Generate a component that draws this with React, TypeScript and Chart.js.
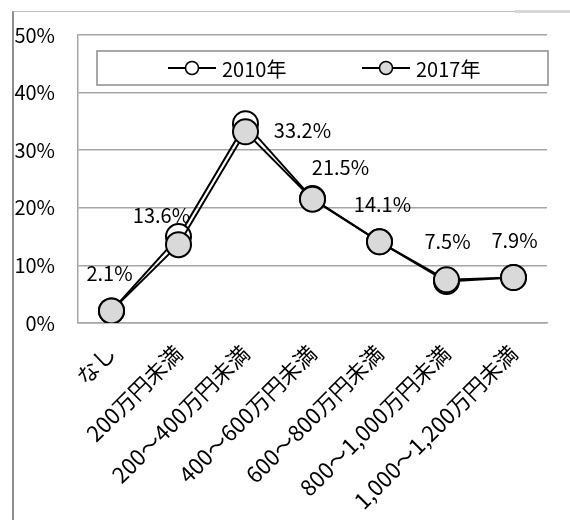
import React, { useEffect, useRef } from 'react';
import { Chart, registerables } from 'chart.js';

Chart.register(...registerables);

// ---- data ----
const categories = [
  'なし',
  '200万円未満',
  '200～400万円未満',
  '400～600万円未満',
  '600～800万円未満',
  '800～1,000万円未満',
  '1,000～1,200万円未満',
];
const seriesNames = ['2010年', '2017年'];
const values2010 = [2.1, 15.0, 34.6, 21.6, 14.1, 7.2, 7.9];
const values2017 = [2.1, 13.6, 33.2, 21.5, 14.1, 7.5, 7.9];
const yMin = 0;
const yMax = 50;
const yStep = 10;

// ---- style ----
const FONT = "'Noto Sans CJK JP', sans-serif";
const FONT_SIZE = 20;
const X_FONT_SIZE = 22;
const GRID = '#a6a6a6';
const FILL2017 = '#d9d9d9';
// label offsets (dx, dy) from each 2017 point, in px
const labelOffsets: [number, number][] = [
  [-2, -37],
  [-17, -29],
  [57, -1],
  [28, -32],
  [3, -37],
  [1, -38],
  [1, -37],
];

const dataLabelPlugin = {
  id: 'dataLabels',
  afterDatasetsDraw(chart: any) {
    const ctx = chart.ctx;
    const meta = chart.getDatasetMeta(1);
    ctx.save();
    ctx.font = `${FONT_SIZE}px ${FONT}`;
    ctx.fillStyle = '#000';
    ctx.textAlign = 'center';
    ctx.textBaseline = 'middle';
    meta.data.forEach((pt: any, i: number) => {
      const [dx, dy] = labelOffsets[i];
      ctx.fillText(values2017[i].toFixed(1) + '%', pt.x + dx, pt.y + dy);
    });
    ctx.restore();
  },
};

const boxLegendPlugin = {
  id: 'boxLegend',
  afterDraw(chart: any) {
    const ctx = chart.ctx;
    const ca = chart.chartArea;
    const x0 = ca.left + 19;
    const x1 = ca.right + 1;
    const y0 = ca.top + 16;
    const y1 = ca.top + 50;
    const cy = (y0 + y1) / 2;
    ctx.save();
    ctx.fillStyle = '#fff';
    ctx.fillRect(x0, y0, x1 - x0, y1 - y0);
    ctx.strokeStyle = '#8c8c8c';
    ctx.lineWidth = 1.5;
    ctx.strokeRect(x0, y0, x1 - x0, y1 - y0);
    const starts = [x0 + 71, x0 + 265];
    const fills = ['#ffffff', FILL2017];
    ctx.font = `${FONT_SIZE}px ${FONT}`;
    ctx.textBaseline = 'middle';
    ctx.textAlign = 'left';
    seriesNames.forEach((name, i) => {
      const sx = starts[i];
      ctx.strokeStyle = '#000';
      ctx.lineWidth = 2;
      ctx.beginPath();
      ctx.moveTo(sx, cy);
      ctx.lineTo(sx + 48, cy);
      ctx.stroke();
      ctx.beginPath();
      ctx.arc(sx + 24, cy, 6.5, 0, Math.PI * 2);
      ctx.fillStyle = fills[i];
      ctx.fill();
      ctx.lineWidth = 1.5;
      ctx.stroke();
      ctx.fillStyle = '#000';
      ctx.fillText(name, sx + 54, cy + 1);
    });
    ctx.restore();
  },
};

export default function App() {
  const ref = useRef<HTMLCanvasElement | null>(null);

  useEffect(() => {
    if (!ref.current) return;
    const chart = new Chart(ref.current, {
      type: 'line',
      data: {
        labels: categories,
        datasets: [
          {
            label: seriesNames[0],
            data: values2010,
            borderColor: '#000',
            borderWidth: 2,
            pointRadius: 12.5,
            pointBorderWidth: 2,
            pointBackgroundColor: '#ffffff',
            pointBorderColor: '#000',
            tension: 0,
            order: 2,
          },
          {
            label: seriesNames[1],
            data: values2017,
            borderColor: '#000',
            borderWidth: 2,
            pointRadius: 12.5,
            pointBorderWidth: 2,
            pointBackgroundColor: FILL2017,
            pointBorderColor: '#000',
            tension: 0,
            order: 1,
          },
        ],
      },
      options: {
        responsive: false,
        animation: false,
        devicePixelRatio: 1,
        layout: { padding: { top: 34, right: 23, left: 0, bottom: 0 } },
        plugins: {
          legend: { display: false },
          tooltip: { enabled: false },
        },
        scales: {
          x: {
            type: 'category',
            offset: true,
            grid: { display: false, drawTicks: false },
            border: { display: true, color: GRID, width: 1.5 },
            ticks: {
              color: '#000',
              font: { family: FONT, size: X_FONT_SIZE },
              minRotation: 45,
              maxRotation: 45,
              autoSkip: false,
              padding: 17,
            },
            afterFit: (scale: any) => {
              scale.height = 197;
            },
          },
          y: {
            min: yMin,
            max: yMax,
            grid: { color: GRID, lineWidth: 1.5, drawTicks: false },
            border: { display: true, color: GRID, width: 1.5 },
            ticks: {
              stepSize: yStep,
              color: '#000',
              font: { family: FONT, size: FONT_SIZE },
              padding: 23,
              callback: (v: any) => v + '%',
            },
            afterFit: (scale: any) => {
              scale.width = 78;
            },
          },
        },
      },
      plugins: [dataLabelPlugin, boxLegendPlugin],
    });
    return () => chart.destroy();
  }, []);

  return (
    <div style={{ position: 'fixed', left: 0, top: 0, width: 570, height: 520, background: '#fff', overflow: 'hidden' }}>
      <div
        style={{
          position: 'absolute',
          left: 12,
          top: 11,
          width: 700,
          height: 700,
          borderLeft: '2px solid #8f8f8f',
          borderTop: '1px solid #bdbdbd',
        }}
      />
      <div style={{ position: 'absolute', left: 515, top: 10, width: 60, height: 3, background: '#d6d6d6' }} />
      <canvas ref={ref} width={570} height={520} style={{ position: 'absolute', left: 0, top: 0 }} />
    </div>
  );
}
